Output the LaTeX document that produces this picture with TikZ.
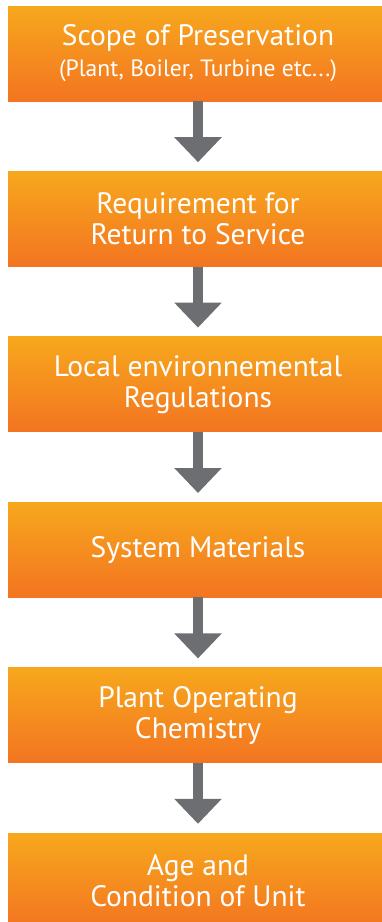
\documentclass[tikz,border=0pt]{standalone}
\usepackage{fontspec}
\setmainfont{PT Sans}
\usepackage{tikz}
\usetikzlibrary{arrows.meta,positioning}

\definecolor{boxtop}{HTML}{F7A81D}
\definecolor{boxbot}{HTML}{F37421}
\definecolor{arrowgray}{HTML}{6D6E71}

\begin{document}
\begin{tikzpicture}[x=1pt,y=1pt, node distance=70pt,
  stage/.style={minimum width=380pt, minimum height=95pt, inner sep=0pt,
    top color=boxtop, bottom color=boxbot, draw=none, text=white,
    align=center, font=\fontsize{29.5}{31}\selectfont},
  flow/.style={draw=arrowgray, line width=10pt, shorten >=9pt,
    -{Triangle[width=46pt,length=25pt]}}]
  \clip (0,0) rectangle (382,-922);
  \node[stage] (scope) at (198,-53.5) {Scope of Preservation\\
    {\fontsize{23.6}{28}\selectfont (Plant, Boiler, Turbine etc...)}};
  \node[stage, below=of scope] (req)  {Requirement for\\Return to Service};
  \node[stage, below=of req]   (regs) {Local environnemental\\Regulations};
  \node[stage, below=of regs]  (mat)  {System Materials};
  \node[stage, below=of mat]   (chem) {Plant Operating\\Chemistry};
  \node[stage, below=of chem]  (age)  {Age and\\Condition of Unit};
  \draw[flow] (scope) -- (req);
  \draw[flow] (req) -- (regs);
  \draw[flow] (regs) -- (mat);
  \draw[flow] (mat) -- (chem);
  \draw[flow] (chem) -- (age);
\end{tikzpicture}
\end{document}
